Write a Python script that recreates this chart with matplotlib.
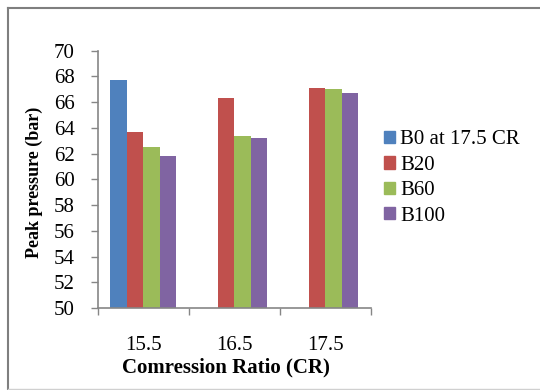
import matplotlib
matplotlib.use("Agg")
import matplotlib.pyplot as plt
from matplotlib.lines import Line2D
import numpy as np

categories = ["15.5", "16.5", "17.5"]
series_names = ["B0 at 17.5 CR", "B20", "B60", "B100"]
b0 = [67.75, None, None]
b20 = [63.7, 66.3, 67.1]
b60 = [62.55, 63.4, 67.0]
b100 = [61.8, 63.25, 66.75]
yticks = [50, 52, 54, 56, 58, 60, 62, 64, 66, 68, 70]

colors = ["#4F81BD", "#C0504D", "#9BBB59", "#8064A2"]
series = [b0, b20, b60, b100]

plt.rcParams['font.family'] = ['Liberation Serif', 'DejaVu Serif']

fig = plt.figure(figsize=(5.4, 3.9), dpi=100)
ax = fig.add_axes([97.7/540, 1-308/390, (370.7-97.7)/540, (308-50.7)/390])

width = 0.18
x = np.arange(len(categories))
for i, (vals, c, name) in enumerate(zip(series, colors, series_names)):
    xs = [xi + (i - 1.5) * width for xi, v in zip(x, vals) if v is not None]
    vs = [v - 50 for v in vals if v is not None]
    ax.bar(xs, vs, width=width, bottom=50, color=c, label=name, linewidth=0)

ax.set_xlim(-0.5, 2.5)
ax.set_ylim(50, 70)
ax.set_yticks(yticks)
ax.set_yticklabels([str(t) for t in yticks], fontsize=15)
ax.set_xticks(x)
ax.set_xticklabels(categories, fontsize=15)
ax.set_xticks([-0.5, 0.5, 1.5, 2.5], minor=True)
ax.tick_params(axis='x', which='major', length=0, pad=20)
ax.tick_params(axis='x', which='minor', length=5, width=1, color='#868686', direction='out')
ax.tick_params(axis='y', length=5, width=1, color='#868686', direction='out', pad=11.5)
for s in ['top', 'right']:
    ax.spines[s].set_visible(False)
for s in ['left', 'bottom']:
    ax.spines[s].set_color('#868686')
    ax.spines[s].set_linewidth(1.2)

ax.set_xlabel("Comression Ratio (CR)", fontsize=15, fontweight='bold', va='center')
ax.xaxis.set_label_coords(0.468, (308-367)/257.3)
ax.set_ylabel("Peak pressure (bar)", fontsize=13, fontweight='bold', va='center')
ax.yaxis.set_label_coords((34.5-97.7)/273, (308-182)/257.3)

handles = [plt.Rectangle((0, 0), 1, 1, color=c) for c in colors]
fig.legend(handles, series_names, loc='upper left', bbox_to_anchor=(375.5/540, 1-122/390),
           frameon=False, fontsize=15, handlelength=0.53, handleheight=0.53,
           handletextpad=0.25, labelspacing=0.31, borderaxespad=0)

# outer frame
fig.add_artist(Line2D([8/540, 8/540], [1-389/390, 1-7.5/390], transform=fig.transFigure,
                      color='#7f7f7f', lw=1.5))
fig.add_artist(Line2D([8/540, 1.0], [1-7.5/390, 1-7.5/390], transform=fig.transFigure,
                      color='#7f7f7f', lw=1.5))
fig.add_artist(Line2D([8/540, 1.0], [1-389/390, 1-389/390], transform=fig.transFigure,
                      color='#d0d0d0', lw=1.0))

fig.savefig("out.png", dpi=100)
